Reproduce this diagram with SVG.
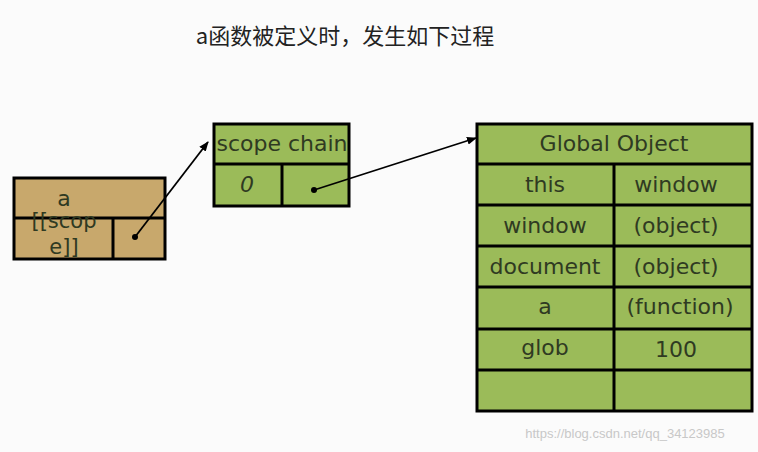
<svg xmlns="http://www.w3.org/2000/svg" width="758" height="452" viewBox="0 0 758 452">
<style>
.g{fill:#9bbb59;stroke:#000;stroke-width:3}
.t{fill:#c8a86c;stroke:#000;stroke-width:3}
.l{stroke:#000;stroke-width:3}
text{font-family:"DejaVu Sans",sans-serif;fill:#2f3a22;font-size:22px;text-anchor:middle}
.c{stroke:#000;stroke-width:1.8;fill:none}
</style>
<defs><marker id="ah" markerWidth="10" markerHeight="8" refX="9" refY="4" orient="auto" markerUnits="userSpaceOnUse"><path d="M0,0L10,4L0,8z" fill="#000"/></marker></defs>
<rect width="758" height="452" fill="#fbfbfb"/>
<text x="345" y="44" style="font-family:'Noto Sans CJK SC',sans-serif;font-size:22px;fill:#222">a函数被定义时，发生如下过程</text>
<g id="funcA">
<rect class="t" x="14" y="178" width="151" height="81"/>
<line class="l" x1="14" y1="218" x2="165" y2="218"/>
<line class="l" x1="113" y1="218" x2="113" y2="259"/>
<text x="64" y="206">a</text>
<text x="64" y="228" style="font-size:21px">[[scop</text>
<text x="64" y="254" style="font-size:21px">e]]</text>
</g>
<g id="scopeChain">
<rect class="g" x="214" y="124" width="135" height="82"/>
<line class="l" x1="214" y1="164" x2="349" y2="164"/>
<line class="l" x1="282" y1="164" x2="282" y2="206"/>
<text x="282" y="151">scope chain</text>
<text x="247" y="192" style="font-style:italic">0</text>
</g>
<g id="globalObject">
<rect class="g" x="477" y="124" width="275" height="287"/>
<g class="l">
<line x1="477" y1="164" x2="752" y2="164"/><line x1="477" y1="205" x2="752" y2="205"/><line x1="477" y1="246" x2="752" y2="246"/><line x1="477" y1="287" x2="752" y2="287"/><line x1="477" y1="329" x2="752" y2="329"/><line x1="477" y1="370" x2="752" y2="370"/>
<line x1="614" y1="164" x2="614" y2="411"/>
</g>
<text x="614" y="151">Global Object</text>
<text x="545" y="192">this</text><text x="676" y="192">window</text>
<text x="545" y="233">window</text><text x="676" y="233">(object)</text>
<text x="545" y="274">document</text><text x="676" y="274">(object)</text>
<text x="545" y="314">a</text><text x="680" y="314">(function)</text>
<text x="545" y="355">glob</text><text x="676" y="357">100</text>
</g>
<g id="connectors">
<circle cx="135" cy="237" r="3" fill="#000"/>
<line class="c" x1="135" y1="237" x2="208" y2="142" marker-end="url(#ah)"/>
<circle cx="314" cy="190" r="3" fill="#000"/>
<line class="c" x1="314" y1="190" x2="476" y2="138" marker-end="url(#ah)"/>
</g>
<text x="625" y="438" style="font-size:13px;fill:#c8c8c8;font-family:'Liberation Sans',sans-serif">https://blog.csdn.net/qq_34123985</text>
</svg>
